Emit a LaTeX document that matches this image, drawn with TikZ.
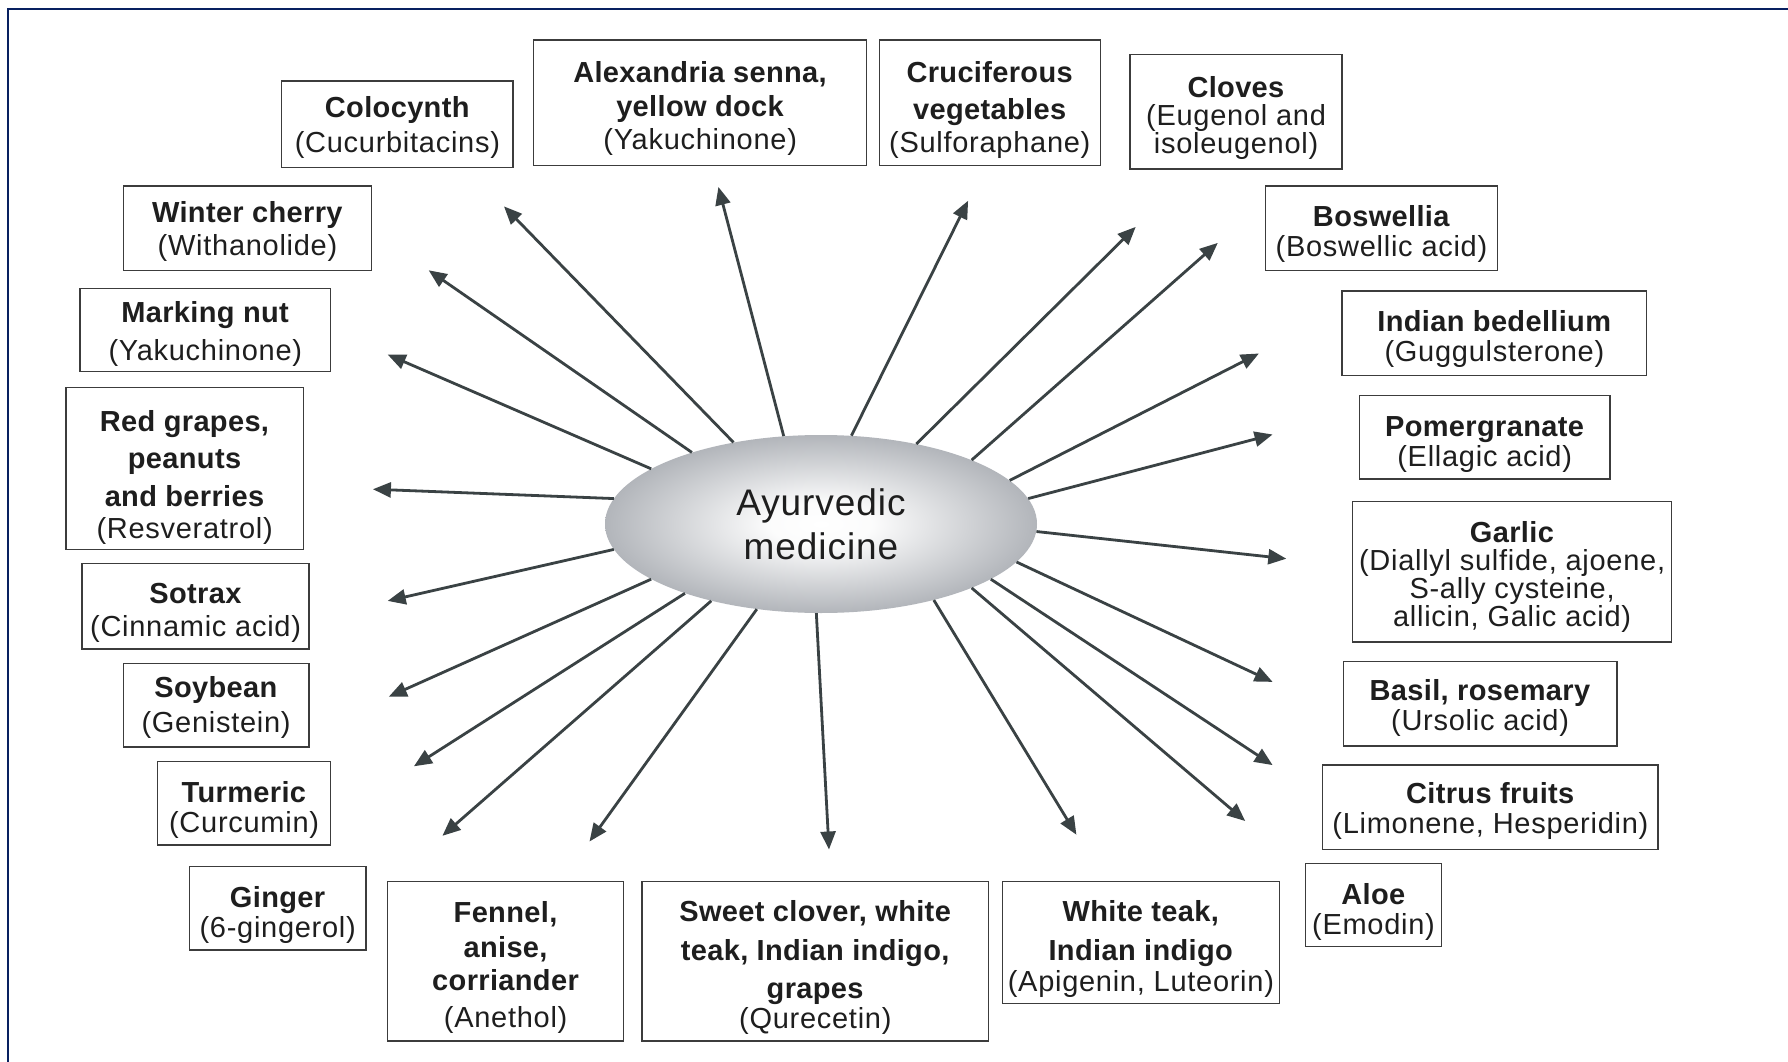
\documentclass[tikz,border=0pt]{standalone}
\usepackage{fontspec}
\setmainfont{Liberation Sans}[LetterSpace=2.5,BoldFeatures={LetterSpace=1.2}]
\usetikzlibrary{arrows.meta,shapes.geometric}
\definecolor{navy}{RGB}{8,32,96}
\definecolor{arrc}{RGB}{58,66,68}
\definecolor{boxc}{RGB}{60,60,60}
\definecolor{txt}{RGB}{30,30,30}
\definecolor{ellg}{RGB}{136,141,149}
\colorlet{ellA}{white!97!ellg}
\colorlet{ellB}{white!45!ellg}
\pgfdeclareradialshading{ayushade}{\pgfpoint{0bp}{0bp}}{color(0bp)=(white); color(6bp)=(ellA); color(22bp)=(ellB); color(36bp)=(ellg); color(50bp)=(ellg)}
\newcommand{\tsx}[1]{\rule{0pt}{\dimexpr 21pt+#1pt\relax}}
\tikzset{
  box/.style={draw=boxc, line width=1.4pt, inner sep=0pt, align=center, text=txt, font=\fontsize{29}{31}\selectfont},
  tight/.style={font=\fontsize{29}{30}\selectfont},
  tighter/.style={font=\fontsize{29}{28}\selectfont},
  arr/.style={draw=arrc, line width=2.8pt, -{Triangle[length=18pt,width=15pt]}},
  frame/.style={draw=navy, line width=2.5pt}
}
\begin{document}
\begin{tikzpicture}[x=1pt,y=-1pt]
\useasboundingbox (0,0) rectangle (1788,1062);
\fill[white] (0,0) rectangle (1788,1062);
\coordinate (fA) at (8,1062);
\coordinate (fB) at (8,9);
\coordinate (fC) at (1788,9);
\draw[frame] (fA) -- (fB) -- (fC);

\node[shape=ellipse, minimum width=432pt, minimum height=178pt, inner sep=0pt, shade, shading=ayushade, text=txt, font=\fontsize{37}{44}\selectfont, align=center] (ell) at (821,524) {Ayurvedic\\medicine};

% boxes
\node[box, minimum width=231.4pt, minimum height=86.6pt] (b1) at (397.4,124.3) {\tsx{7}\textbf{Colocynth}\\[4pt](Cucurbitacins)};
\node[box, minimum width=332.9pt, minimum height=125.4pt] (b2) at (700.2,102.6) {\tsx{11}\textbf{Alexandria senna,}\\[3pt]\textbf{yellow dock}\\[2pt](Yakuchinone)};
\node[box, minimum width=221.2pt, minimum height=125.4pt] (b3) at (989.8,102.6) {\tsx{15}\textbf{Cruciferous}\\[6pt]\textbf{vegetables}\\[2pt](Sulforaphane)};
\node[box, tighter, minimum width=212.1pt, minimum height=114.1pt] (b4) at (1236.1,111.8) {\tsx{12}\textbf{Cloves}\\(Eugenol and\\isoleugenol)};
\node[box, minimum width=248.5pt, minimum height=84.4pt] (b5) at (247.5,228.1) {\tsx{7}\textbf{Winter cherry}\\[2pt](Withanolide)};
\node[box, tight, minimum width=231.5pt, minimum height=84.4pt] (b6) at (1381.5,228.1) {\tsx{11}\textbf{Boswellia}\\(Boswellic acid)};
\node[box, minimum width=250.9pt, minimum height=83.2pt] (b7) at (205.3,330.1) {\tsx{8}\textbf{Marking nut}\\[7pt](Yakuchinone)};
\node[box, tight, minimum width=304.5pt, minimum height=84.4pt] (b8) at (1494.4,333.0) {\tsx{12}\textbf{Indian bedellium}\\(Guggulsterone)};
\node[box, minimum width=237.2pt, minimum height=161.9pt] (b9) at (184.7,468.7) {\tsx{17}\textbf{Red grapes,}\\[6pt]\textbf{peanuts}\\[7pt]\textbf{and berries}\\[1pt](Resveratrol)};
\node[box, tight, minimum width=250.9pt, minimum height=83.2pt] (b10) at (1484.7,437.3) {\tsx{14}\textbf{Pomergranate}\\(Ellagic acid)};
\node[box, tighter, minimum width=319.3pt, minimum height=140.3pt] (b11) at (1512.1,571.9) {\tsx{10}\textbf{Garlic}\\(Diallyl sulfide, ajoene,\\S-ally cysteine,\\allicin, Galic acid)};
\node[box, minimum width=226.9pt, minimum height=85.5pt] (b12) at (195.6,606.1) {\tsx{13}\textbf{Sotrax}\\[2pt](Cinnamic acid)};
\node[box, minimum width=185.8pt, minimum height=83.2pt] (b13) at (216.1,705.3) {\tsx{4}\textbf{Soybean}\\[4pt](Genistein)};
\node[box, tight, minimum width=273.6pt, minimum height=84.4pt] (b14) at (1480.1,703.6) {\tsx{8}\textbf{Basil, rosemary}\\(Ursolic acid)};
\node[box, tight, minimum width=173.3pt, minimum height=83.3pt] (b15) at (244.1,803.4) {\tsx{13}\textbf{Turmeric}\\(Curcumin)};
\node[box, tight, minimum width=335.3pt, minimum height=84.4pt] (b16) at (1490.4,807.3) {\tsx{7}\textbf{Citrus fruits}\\(Limonene, Hesperidin)};
\node[box, tight, minimum width=176.7pt, minimum height=83.3pt] (b17) at (277.7,908.3) {\tsx{13}\textbf{Ginger}\\(6-gingerol)};
\node[box, tight, minimum width=135.7pt, minimum height=83.2pt] (b18) at (1373.5,904.8) {\tsx{15}\textbf{Aloe}\\(Emodin)};
\node[box, minimum width=236.0pt, minimum height=159.6pt] (b19) at (505.7,961.3) {\tsx{12}\textbf{Fennel,}\\[4pt]\textbf{anise,}\\[2pt]\textbf{corriander}\\[6pt](Anethol)};
\node[box, minimum width=346.6pt, minimum height=159.6pt] (b20) at (815.3,961.3) {\tsx{13}\textbf{Sweet clover, white}\\[8pt]\textbf{teak, Indian indigo,}\\[7pt]\textbf{grapes}\\[-1pt](Qurecetin)};
\node[box, minimum width=277.1pt, minimum height=122.0pt] (b21) at (1140.9,942.5) {\tsx{13}\textbf{White teak,}\\[8pt]\textbf{Indian indigo}\\(Apigenin, Luteorin)};

% arrow tips
\coordinate (ta) at (504.0,206.4);
\coordinate (tb) at (718.4,187.0);
\coordinate (tc) at (968.1,200.7);
\coordinate (td) at (1135.7,226.9);
\coordinate (te) at (1217.8,242.9);
\coordinate (tf) at (1258.9,353.5);
\coordinate (tg) at (1272.6,434.5);
\coordinate (th) at (1286.3,558.7);
\coordinate (ti) at (1272.6,681.9);
\coordinate (tj) at (1272.6,765.1);
\coordinate (tk) at (1245.2,821.0);
\coordinate (tl) at (1076.4,834.7);
\coordinate (tm) at (829.0,849.5);
\coordinate (tn) at (589.5,841.5);
\coordinate (to) at (442.4,835.8);
\coordinate (tp) at (413.9,766.3);
\coordinate (tq) at (388.8,696.7);
\coordinate (tr) at (387.7,600.9);
\coordinate (ts) at (372.9,489.2);
\coordinate (tt) at (387.7,354.6);
\coordinate (tu) at (428.7,270.3);

\draw[arr] (ell.137.8) -- (ta);
\draw[arr] (ell.113.4) -- (tb);
\draw[arr] (ell.71.7) -- (tc);
\draw[arr] (ell.40.0) -- (td);
\draw[arr] (ell.23.5) -- (te);
\draw[arr] (ell.13.0) -- (tf);
\draw[arr] (ell.7.0) -- (tg);
\draw[arr] (ell.-2.6) -- (th);
\draw[arr] (ell.-11.9) -- (ti);
\draw[arr] (ell.-18.0) -- (tj);
\draw[arr] (ell.-23.9) -- (tk);
\draw[arr] (ell.-34.0) -- (tl);
\draw[arr] (ell.267.1) -- (tm);
\draw[arr] (ell.233.4) -- (tn);
\draw[arr] (ell.215.0) -- (to);
\draw[arr] (ell.207.5) -- (tp);
\draw[arr] (ell.198.6) -- (tq);
\draw[arr] (ell.187.0) -- (tr);
\draw[arr] (ell.173.4) -- (ts);
\draw[arr] (ell.162.1) -- (tt);
\draw[arr] (ell.151.7) -- (tu);
\end{tikzpicture}
\end{document}
